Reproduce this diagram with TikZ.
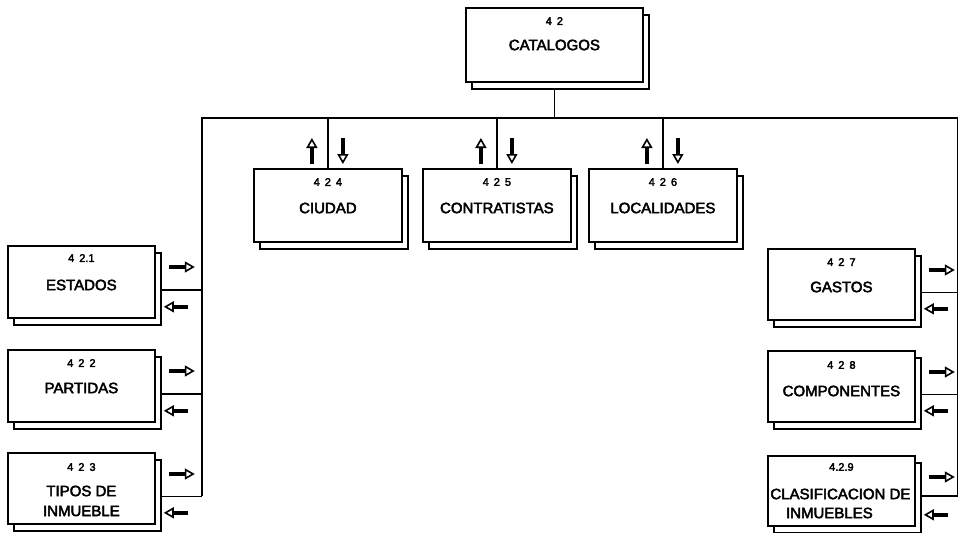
\documentclass[tikz,border=0pt]{standalone}
\usepackage{fontspec}
\setmainfont{Liberation Sans}
\newfontfamily\scanfont[FakeBold=3]{Liberation Sans}
\usetikzlibrary{arrows.meta,shadows,calc}
\newcommand{\nsp}{\hspace{5pt}}
\begin{document}
\begin{tikzpicture}[x=1pt,y=-1pt,
  box/.style={draw, line width=1.8pt, fill=white, inner sep=0pt, anchor=north west,
    minimum width=147pt, minimum height=72pt,
    copy shadow={shadow xshift=6pt, shadow yshift=-7pt}},
  num/.style={font=\scanfont\fontsize{11}{13}\selectfont, inner sep=0pt},
  lab/.style={font=\scanfont\fontsize{15}{18}\selectfont, inner sep=0pt},
  wire/.style={line width=1.3pt},
  flow/.style={line width=3.6pt, -{Triangle[open,length=10pt,width=11pt,line width=1.6pt]}}
]
\useasboundingbox (0,0) rectangle (959,533);

% boxes
\node[box, minimum width=177pt, minimum height=74pt] (cat) at (465,7) {};
\node[box, minimum width=148pt, minimum height=73pt] (ciu) at (253,168) {};
\node[box, minimum width=148pt, minimum height=73pt] (con) at (422,168) {};
\node[box, minimum width=148pt, minimum height=73pt] (loc) at (588,168) {};
\node[box] (est) at (7,245) {};
\node[box] (par) at (7,349) {};
\node[box, minimum height=71pt] (tip) at (7,452) {};
\node[box, minimum height=71pt] (gas) at (767,248) {};
\node[box, minimum height=71pt] (com) at (767,350) {};
\node[box, minimum height=70pt] (cla) at (767,455) {};

% texts
\node[num] (catN) at ($(cat.north)+(0,14)$) {4\nsp 2};
\node[lab] (catL) at ($(cat.north)+(0,38)$) {CATALOGOS};
\node[num] (ciuN) at ($(ciu.north)+(0,14)$) {4\nsp 2\nsp 4};
\node[lab] (ciuL) at ($(ciu.north)+(0,40)$) {CIUDAD};
\node[num] (conN) at ($(con.north)+(0,14)$) {4\nsp 2\nsp 5};
\node[lab] (conL) at ($(con.north)+(0,40)$) {CONTRATISTAS};
\node[num] (locN) at ($(loc.north)+(0,14)$) {4\nsp 2\nsp 6};
\node[lab] (locL) at ($(loc.north)+(0,40)$) {LOCALIDADES};
\node[num] (estN) at ($(est.north)+(0,13)$) {4\nsp 2.1};
\node[lab] (estL) at ($(est.north)+(0,40)$) {ESTADOS};
\node[num] (parN) at ($(par.north)+(0,14)$) {4\nsp 2\nsp 2};
\node[lab] (parL) at ($(par.north)+(0,39)$) {PARTIDAS};
\node[num] (tipN) at ($(tip.north)+(0,15)$) {4\nsp 2\nsp 3};
\node[lab] (tipL1) at ($(tip.north)+(0,39)$) {TIPOS DE};
\node[lab] (tipL2) at ($(tip.north)+(0,59)$) {INMUEBLE};
\node[num] (gasN) at ($(gas.north)+(0,14)$) {4\nsp 2\nsp 7};
\node[lab] (gasL) at ($(gas.north)+(0,39)$) {GASTOS};
\node[num] (comN) at ($(com.north)+(0,15)$) {4\nsp 2\nsp 8};
\node[lab] (comL) at ($(com.north)+(0,41)$) {COMPONENTES};
\node[num] (claN) at ($(cla.north)+(0,12)$) {4.2.9};
\node[lab] (claL1) at ($(cla.north)+(-1,39)$) {CLASIFICACION DE};
\node[lab] (claL2) at ($(cla.north)+(-12,58)$) {INMUEBLES};

% bus
\coordinate (busL) at (202,118);
\coordinate (busR) at (957.5,118);
\coordinate (catB) at ($(cat.south)+(0,7)$);
\coordinate (estC) at ($(est.east)+(6,8)$);
\coordinate (parC) at ($(par.east)+(6,8)$);
\coordinate (tipC) at ($(tip.east)+(5,8)$);
\coordinate (gasC) at ($(gas.east)+(6,8)$);
\coordinate (comC) at ($(com.east)+(6,8)$);
\coordinate (claC) at ($(cla.east)+(6,5)$);

\draw[wire] (catB) -- (catB |- busL);
\draw[wire] (tipC -| busL) -- (busL) -- (busR) -- (claC -| busR);
\foreach \b in {ciu,con,loc} {
  \draw[wire] (\b.north) -- (\b.north |- busL);
  \draw[flow] ($(\b.north)+(-16,-4)$) -- ++(0,-26);
  \draw[flow] ($(\b.north)+(15,-30)$) -- ++(0,26);
}
\foreach \b in {est,par,tip} {
  \draw[wire] (\b C) -- (\b C -| busL);
}
\foreach \b in {gas,com,cla} {
  \draw[wire] (\b C) -- (\b C -| busR);
}
\foreach \b in {est,par,tip,gas,com,cla} {
  \draw[flow] ($(\b.north east)+(13,22)$) -- ++(26,0);
  \draw[flow] ($(\b.south east)+(32,-12)$) -- ++(-24,0);
}
\end{tikzpicture}
\end{document}
